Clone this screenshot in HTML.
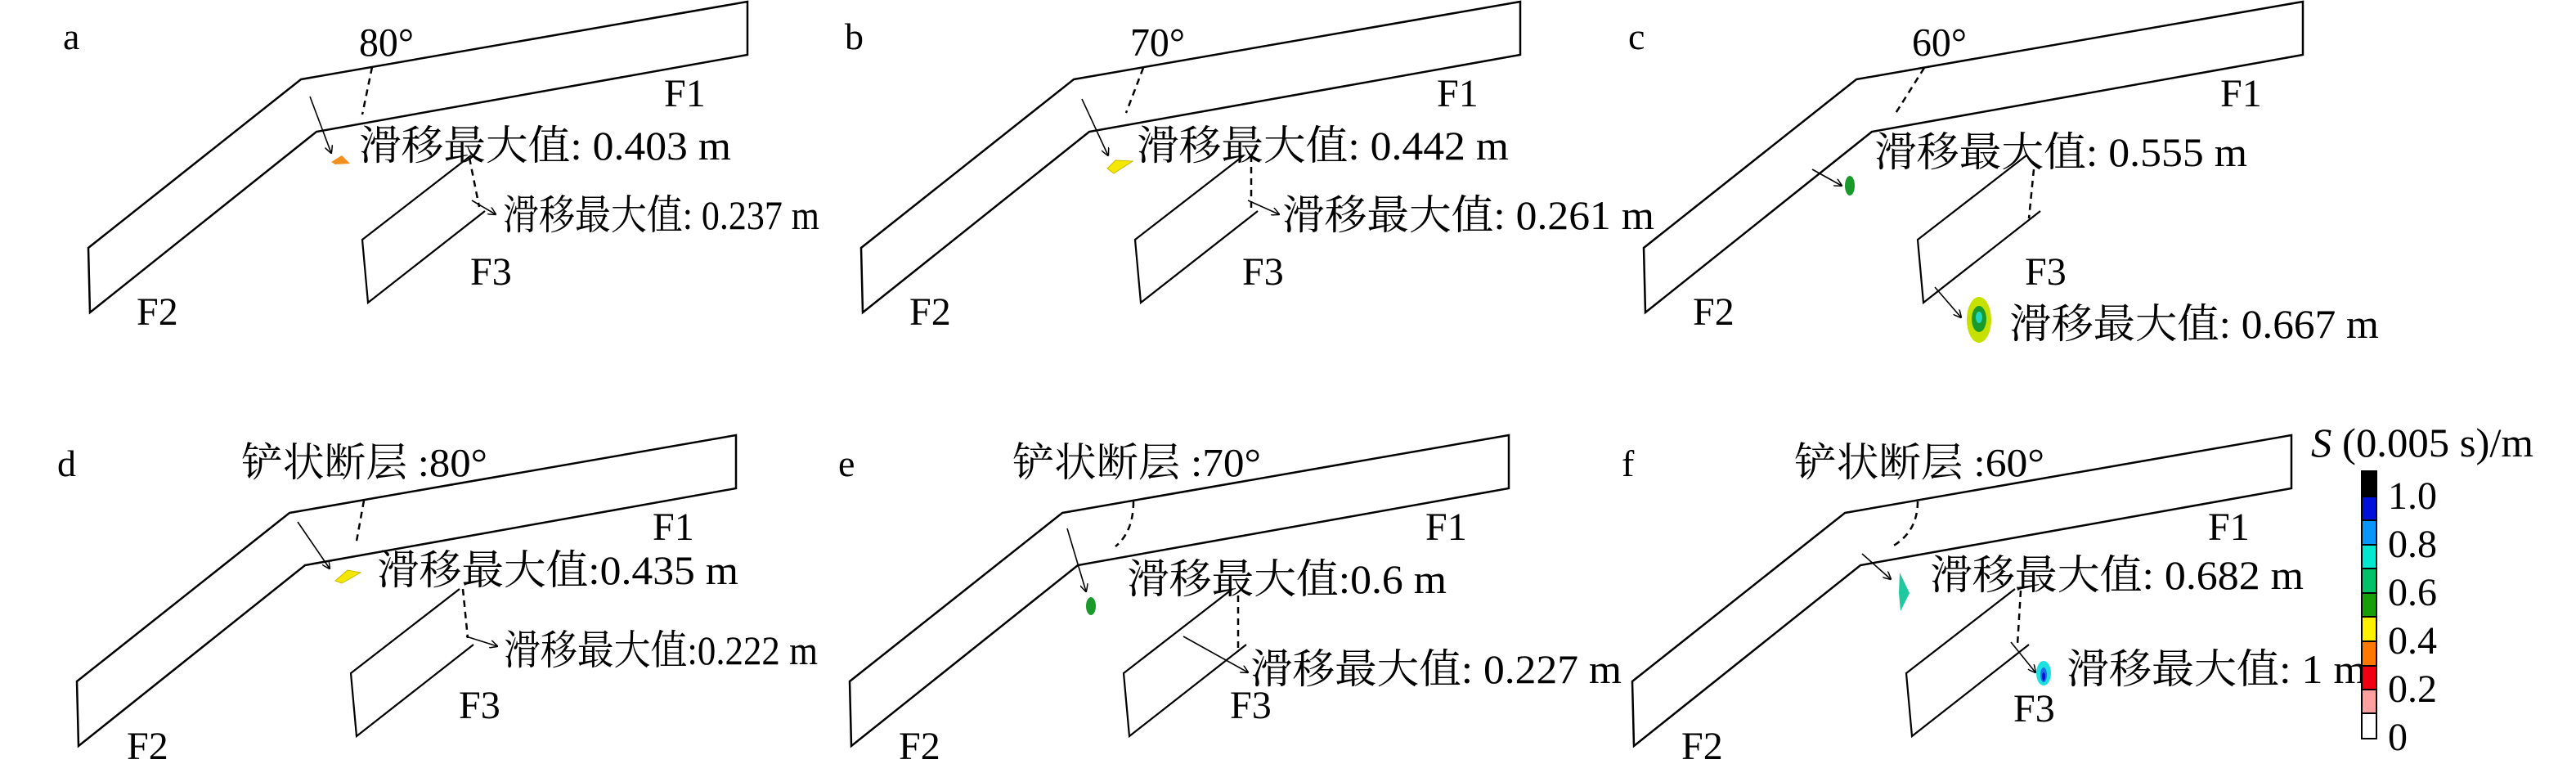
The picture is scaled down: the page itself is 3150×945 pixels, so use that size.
<!DOCTYPE html>
<html><head><meta charset="utf-8"><style>
html,body{margin:0;padding:0;background:#fff;width:3150px;height:945px;overflow:hidden}
text{font-family:"Liberation Serif","Noto Serif CJK SC",serif;fill:#000}
</style></head><body>
<svg width="3150" height="945" viewBox="0 0 3150 945" xmlns="http://www.w3.org/2000/svg">
<defs>
<marker id="ah" markerWidth="10" markerHeight="10" refX="9" refY="5" orient="auto" markerUnits="userSpaceOnUse"><path d="M0,0 L10,5 L0,10" fill="none" stroke="#000" stroke-width="1.5"/></marker>
<g id="shape">
<polygon points="368,97 914,2 914,67 387,161 110,382 108,303" fill="none" stroke="#000" stroke-width="2.5" stroke-linejoin="miter"/>
<polyline points="576,190 443,293 450,370 593,258" fill="none" stroke="#000" stroke-width="2.2"/>
</g>
</defs>
<use href="#shape"/>
<use href="#shape" x="945"/>
<use href="#shape" x="1902"/>
<use href="#shape" x="-14" y="530"/>
<use href="#shape" x="931" y="530"/>
<use href="#shape" x="1888" y="530"/>

<g fill="none" stroke="#000" stroke-width="2.5" stroke-dasharray="8,6">
<line x1="455" y1="82" x2="443" y2="140"/>
<line x1="574" y1="193" x2="586" y2="253"/>
<line x1="1398" y1="83" x2="1377" y2="138"/>
<line x1="1530" y1="190" x2="1530" y2="260"/>
<line x1="2353" y1="83" x2="2317" y2="140"/>
<line x1="2487" y1="207" x2="2481" y2="267"/>
<line x1="445" y1="612" x2="435" y2="667"/>
<line x1="566" y1="720" x2="572" y2="780"/>
<path d="M1386,613 Q1386,650 1364,668"/>
<line x1="1514" y1="728" x2="1514" y2="795"/>
<path d="M2345,613 Q2345,650 2314,668"/>
<line x1="2471" y1="722" x2="2467" y2="788"/>
</g>
<g fill="none" stroke="#000" stroke-width="1.6" marker-end="url(#ah)">
<line x1="379" y1="118" x2="405" y2="187"/>
<line x1="577" y1="245" x2="606" y2="262"/>
<line x1="1323" y1="121" x2="1355" y2="190"/>
<line x1="1526" y1="245" x2="1564" y2="262"/>
<line x1="2216" y1="207" x2="2252" y2="227"/>
<line x1="2366" y1="351" x2="2398" y2="388"/>
<line x1="364" y1="638" x2="403" y2="695"/>
<line x1="570" y1="778" x2="608" y2="790"/>
<line x1="1305" y1="646" x2="1328" y2="723"/>
<line x1="1447" y1="778" x2="1526" y2="822"/>
<line x1="2277" y1="677" x2="2312" y2="708"/>
<line x1="2459" y1="785" x2="2489" y2="822"/>
</g>
<!-- blobs -->
<polygon points="405,198 418,190 428,200 410,201" fill="#f0901e"/>
<polygon points="1354,206 1364,196 1385,197 1362,212" fill="#f5e800" stroke="#c8b800" stroke-width="1"/>
<ellipse cx="2262" cy="227" rx="6" ry="12" fill="#1a9a2a"/>
<ellipse cx="2420" cy="391" rx="15" ry="28" fill="#c6e000"/>
<ellipse cx="2420" cy="390" rx="9" ry="16" fill="#1a9a2a"/>
<ellipse cx="2420" cy="388" rx="4" ry="7" fill="#20d8c0"/>
<polygon points="410,710 425,697 441,700 418,713" fill="#f5e800" stroke="#c8b800" stroke-width="1"/>
<ellipse cx="1334" cy="741" rx="6" ry="11" fill="#1a9a2a"/>
<polygon points="2323,700 2335,725 2324,747 2322,725" fill="#20c8a0"/>
<ellipse cx="2499" cy="823" rx="9" ry="15" fill="#1fe0e0"/>
<ellipse cx="2499" cy="825" rx="4" ry="9" fill="#1a6ee8"/>
<ellipse cx="2499" cy="827" rx="2" ry="5" fill="#0010d0"/>

<!-- panel letters -->
<g font-size="46">
<text x="77" y="60">a</text><text x="1033" y="60">b</text><text x="1991" y="60">c</text>
<text x="70" y="582">d</text><text x="1025" y="582">e</text><text x="1983" y="582">f</text>
</g>
<g font-size="49">
<text x="439" y="68" textLength="67" lengthAdjust="spacingAndGlyphs">80°</text>
<text x="1382" y="68" textLength="67" lengthAdjust="spacingAndGlyphs">70°</text>
<text x="2338" y="68" textLength="67" lengthAdjust="spacingAndGlyphs">60°</text>
<text x="295" y="582" textLength="301" lengthAdjust="spacingAndGlyphs">铲状断层 :80°</text>
<text x="1238" y="582" textLength="304" lengthAdjust="spacingAndGlyphs">铲状断层 :70°</text>
<text x="2194" y="582" textLength="306" lengthAdjust="spacingAndGlyphs">铲状断层 :60°</text>
</g>
<g font-size="50">
<text x="439" y="195" textLength="455" lengthAdjust="spacingAndGlyphs">滑移最大值: 0.403 m</text>
<text x="615" y="280" textLength="387" lengthAdjust="spacingAndGlyphs">滑移最大值: 0.237 m</text>
<text x="1390" y="195" textLength="455" lengthAdjust="spacingAndGlyphs">滑移最大值: 0.442 m</text>
<text x="1568" y="280" textLength="455" lengthAdjust="spacingAndGlyphs">滑移最大值: 0.261 m</text>
<text x="2292" y="203" textLength="456" lengthAdjust="spacingAndGlyphs">滑移最大值: 0.555 m</text>
<text x="2457" y="413" textLength="452" lengthAdjust="spacingAndGlyphs">滑移最大值: 0.667 m</text>
<text x="461" y="714" textLength="442" lengthAdjust="spacingAndGlyphs">滑移最大值:0.435 m</text>
<text x="616" y="812" textLength="384" lengthAdjust="spacingAndGlyphs">滑移最大值:0.222 m</text>
<text x="1378" y="725" textLength="391" lengthAdjust="spacingAndGlyphs">滑移最大值:0.6 m</text>
<text x="1529" y="835" textLength="454" lengthAdjust="spacingAndGlyphs">滑移最大值: 0.227 m</text>
<text x="2360" y="720" textLength="457" lengthAdjust="spacingAndGlyphs">滑移最大值: 0.682 m</text>
<text x="2527" y="835" textLength="367" lengthAdjust="spacingAndGlyphs">滑移最大值: 1 m</text>
</g>
<g font-size="48">
<text x="812" y="130">F1</text><text x="575" y="348">F3</text><text x="167" y="397">F2</text>
<text x="1757" y="130">F1</text><text x="1519" y="348">F3</text><text x="1112" y="397">F2</text>
<text x="2715" y="130">F1</text><text x="2476" y="348">F3</text><text x="2070" y="397">F2</text>
<text x="798" y="660">F1</text><text x="561" y="878">F3</text><text x="155" y="928">F2</text>
<text x="1743" y="660">F1</text><text x="1504" y="878">F3</text><text x="1099" y="928">F2</text>
<text x="2700" y="660">F1</text><text x="2462" y="882">F3</text><text x="2056" y="928">F2</text>
</g>
<!-- colorbar -->
<text x="2826" y="558" font-size="50" textLength="272" lengthAdjust="spacingAndGlyphs"><tspan font-style="italic">S</tspan> (0.005 s)/m</text>
<g stroke="#000" stroke-width="2">
<rect x="2888" y="576" width="18" height="31" fill="#000"/>
<rect x="2888" y="607" width="18" height="29" fill="#0010d8"/>
<rect x="2888" y="636" width="18" height="30" fill="#0896f8"/>
<rect x="2888" y="666" width="18" height="29" fill="#00e8d0"/>
<rect x="2888" y="695" width="18" height="30" fill="#00c068"/>
<rect x="2888" y="725" width="18" height="29" fill="#189e08"/>
<rect x="2888" y="754" width="18" height="30" fill="#fff200"/>
<rect x="2888" y="784" width="18" height="30" fill="#ff7800"/>
<rect x="2888" y="814" width="18" height="29" fill="#f00010"/>
<rect x="2888" y="843" width="18" height="29" fill="#ffa0a0"/>
<rect x="2888" y="872" width="18" height="31" fill="#fff"/>
</g>
<g font-size="48">
<text x="2920" y="622">1.0</text><text x="2920" y="681">0.8</text><text x="2920" y="740">0.6</text>
<text x="2920" y="799">0.4</text><text x="2920" y="858">0.2</text><text x="2920" y="917">0</text>
</g>
</svg>
</body></html>
